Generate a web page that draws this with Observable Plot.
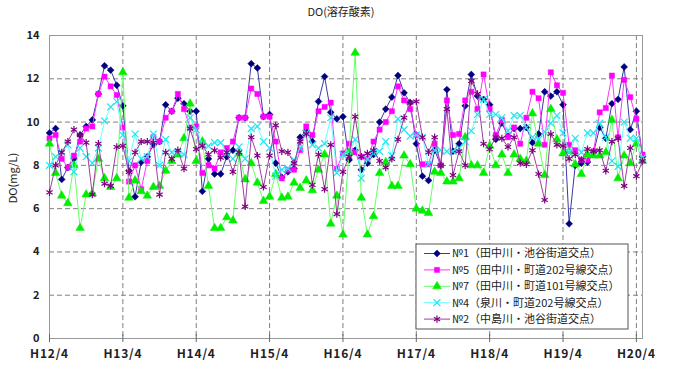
<!DOCTYPE html>
<html><head><meta charset="utf-8">
<script src="https://cdn.jsdelivr.net/npm/d3@7"></script>
<script src="https://cdn.jsdelivr.net/npm/@observablehq/plot@0.6"></script>
<style>body{margin:0;background:#fff;}</style>
</head><body><div id="chart"></div>
<script>
// Monthly DO values, H12/4 (index 0) .. H20/5 (index 97)
const no1 = [9.5,9.7,7.35,7.9,8.3,9.4,9.8,10.1,11.3,12.6,12.4,11.7,10.75,7.75,6.55,8.15,8.4,8.95,9.1,10.8,10.5,11.1,10.85,10.5,10.5,6.8,8.3,7.6,7.6,8.4,8.7,10.2,10.2,12.7,12.5,10.25,10.35,8.1,7.45,7.7,7.85,9.3,9.6,9.1,10.95,12.1,10.45,10.15,10.25,8.25,8.7,7.8,8.1,8.5,10.0,10.6,11.15,12.15,11.35,10.9,9.0,7.5,7.3,8.7,8.0,11.5,8.65,9.0,10.75,12.2,11.2,11.05,10.8,9.2,9.95,9.35,9.7,9.7,9.75,9.05,9.45,11.4,11.2,11.4,10.8,5.3,8.0,8.1,8.15,8.6,9.75,9.25,10.85,11.05,12.55,9.65,10.5,8.4];
const no5 = [9.25,9.4,8.3,7.9,8.45,9.1,9.7,9.8,11.3,12.1,11.65,11.25,9.75,7.25,8.0,6.9,8.2,9.3,9.1,10.2,10.5,11.3,10.6,9.75,9.8,7.65,8.0,7.85,8.6,8.8,9.1,10.2,10.2,11.55,11.3,10.25,10.25,9.1,7.4,7.8,7.8,8.7,9.8,9.4,10.5,10.7,10.9,7.85,8.55,9.0,8.6,8.4,8.3,9.1,9.65,10.0,10.5,11.65,11.0,10.6,9.4,8.05,8.05,9.0,8.0,11.0,9.4,9.45,11.0,11.4,10.6,12.2,10.6,9.4,10.1,9.3,9.75,9.0,10.2,11.4,11.1,8.95,12.3,11.7,11.35,8.95,8.7,8.25,8.25,8.65,10.45,10.65,12.15,9.3,11.95,11.15,10.15,8.5];
const no7 = [9.0,7.65,6.6,6.25,8.0,5.1,6.65,6.7,8.3,7.4,7.0,7.4,12.3,6.5,7.3,6.8,6.6,7.0,7.05,7.75,8.2,8.5,9.25,10.85,8.2,9.1,7.05,5.1,5.1,5.6,5.45,8.55,7.35,8.1,7.2,6.35,6.55,7.6,6.5,6.55,7.2,6.95,7.3,6.85,7.8,8.5,5.3,6.6,4.8,8.6,13.2,6.5,4.8,5.65,7.65,8.15,7.05,7.05,8.45,8.05,6.0,5.9,5.8,7.7,7.65,7.25,7.25,7.4,9.3,8.0,8.0,7.65,8.9,8.0,8.5,7.65,8.5,8.3,8.2,10.4,9.0,7.55,10.6,9.2,8.55,8.65,8.05,7.6,8.5,8.45,8.45,8.6,10.1,7.4,8.45,8.1,9.0,8.2];
const no4 = [8.0,8.4,8.6,8.95,7.7,8.8,8.4,8.1,8.8,10.05,10.7,10.95,9.4,8.2,9.45,8.3,8.4,9.45,8.0,9.2,8.6,8.6,8.5,10.2,9.65,9.0,8.9,9.05,9.05,8.55,8.3,8.85,8.3,9.7,9.8,9.1,8.8,7.5,7.8,7.85,8.25,8.8,9.5,8.95,8.8,9.0,10.2,7.65,8.5,8.6,9.2,7.4,8.3,8.55,8.65,9.1,8.45,10.15,9.65,9.35,9.4,9.3,8.05,8.7,8.7,8.65,8.65,8.8,9.1,9.6,10.35,11.05,10.35,10.35,10.2,9.6,10.3,10.3,9.75,9.3,9.2,9.55,9.95,10.3,9.5,8.6,9.25,8.6,9.5,9.5,9.95,9.3,8.2,7.95,10.0,9.25,9.25,8.35];
const no2 = [6.75,8.0,8.6,9.1,9.65,9.4,9.05,6.65,9.0,7.15,7.05,8.85,8.9,7.7,8.6,9.1,9.1,9.05,6.65,8.6,8.3,8.7,7.85,9.7,8.75,8.9,8.5,8.7,8.35,8.6,7.7,8.6,6.1,9.3,8.45,7.0,8.45,9.85,8.65,8.6,8.1,9.1,9.45,7.1,8.5,6.9,8.95,5.75,7.7,8.4,10.25,8.4,8.55,8.7,8.2,7.9,8.3,9.2,10.2,10.9,10.95,9.3,8.6,9.3,8.0,10.6,7.55,8.65,8.0,11.9,11.3,9.0,8.75,9.3,9.25,8.85,9.3,8.1,8.05,8.7,7.6,6.4,9.45,8.95,8.9,8.3,8.5,8.25,8.75,8.65,8.7,7.75,9.1,9.25,7.05,8.8,7.5,8.2];

const seriesNames = ["№1（田中川・池谷街道交点）","№5（田中川・町道202号線交点）","№7（田中川・町道101号線交点）","№4（泉川・町道202号線交点）","№2（中島川・池谷街道交点）"];
const xTickPos = [0,12,24,36,48,60,72,84,96];
const xTickLabels = ["H12/4","H13/4","H14/4","H15/4","H16/4","H17/4","H18/4","H19/4","H20/4"];
const yTicks = [0,2,4,6,8,10,12,14];
const gridY = [2,4,6,8,10,12];
const gridX = [12,24,36,48,60,72,84,96];

const styles = [
  {vals:no1, line:"#3a3aa8", mark:"#000080", symbol:"diamond2", filled:true, r:3.1},
  {vals:no5, line:"#ff33ff", mark:"#ff00ff", symbol:"square", filled:true, r:2.9},
  {vals:no7, line:"#66ff66", mark:"#00ee00", symbol:"triangle", filled:true, r:3.2},
  {vals:no4, line:"#66ffff", mark:"#22e5f0", symbol:"times", filled:false, r:3.2},
  {vals:no2, line:"#a040a0", mark:"#800080", symbol:"asterisk", filled:false, r:3.4}
];

const font = "'Noto Sans CJK JP', 'Noto Sans', sans-serif";
const marks = [
  Plot.ruleY(gridY, {stroke:"#808080", strokeDasharray:"5,3", strokeWidth:1}),
  Plot.ruleX(gridX, {stroke:"#808080", strokeDasharray:"5,3", strokeWidth:1}),
  Plot.frame({stroke:"#999"}),
  Plot.ruleX(xTickPos, {y1:0, y2:0.18, stroke:"#666"}),
  Plot.axisX({ticks:xTickPos, tickFormat:(d)=>xTickLabels[xTickPos.indexOf(d)], tickSize:4, tickPadding:7, label:null, fontSize:12}),
  Plot.axisY({ticks:yTicks, tickSize:0, tickPadding:10, label:null, fontSize:11})
];
for (const s of styles) {
  marks.push(Plot.line(s.vals, {x:(d,i)=>i, y:d=>d, stroke:s.line, strokeWidth:1}));
  marks.push(Plot.dot(s.vals, {x:(d,i)=>i, y:d=>d, symbol:s.symbol, r:s.r,
    fill: s.filled ? s.mark : "none", stroke: s.mark, strokeWidth: s.filled ? 0.5 : 1.2}));
}

const chart = Plot.plot({
  width:680, height:373,
  marginLeft:49, marginRight:38, marginTop:35, marginBottom:35,
  style:{fontFamily:font, fontSize:"11px", color:"#222", background:"#fff"},
  x:{domain:[0,97], axis:null},
  y:{domain:[0,14], axis:null},
  marks
});
document.getElementById("chart").append(chart);

const svg = d3.select(chart);
svg.selectAll("[aria-label='x-axis tick label'] text, [aria-label='y-axis tick label'] text").style("font-weight","bold").attr("fill","#222");
svg.selectAll("[aria-label='x-axis tick label'] text").style("letter-spacing","0.8px");
svg.selectAll("[aria-label='x-axis tick'] path, [aria-label='x-axis tick']").attr("stroke","#666");

svg.append("text").attr("x",341).attr("y",16).attr("text-anchor","middle")
  .style("font-family",font).style("font-size","11px").attr("fill","#222").text("DO(溶存酸素)");
svg.append("text").attr("transform","translate(17,178) rotate(-90)").attr("text-anchor","middle")
  .style("font-family",font).style("font-size","11px").attr("fill","#222").text("DO(mg/L)");

// legend
const lg = svg.append("g").attr("transform","translate(416,244)");
lg.append("rect").attr("width",212).attr("height",85).attr("fill","#fff").attr("stroke","#555").attr("stroke-width",1);
const sym = {diamond2:d3.symbolDiamond2, square:d3.symbolSquare, triangle:d3.symbolTriangle, times:d3.symbolTimes, asterisk:d3.symbolAsterisk};
styles.forEach((s,k)=>{
  const y = 9.5 + k*16.4;
  lg.append("line").attr("x1",8).attr("x2",34).attr("y1",y).attr("y2",y).attr("stroke",s.line).attr("stroke-width",1);
  lg.append("path").attr("transform",`translate(21,${y})`).attr("d",d3.symbol(sym[s.symbol], Math.PI*s.r*s.r)())
    .attr("fill", s.filled ? s.mark : "none").attr("stroke", s.mark).attr("stroke-width", s.filled?0.5:1.2);
  lg.append("text").attr("x",36).attr("y",y).attr("dy","0.36em").attr("text-anchor","start")
    .style("font-family",font).style("font-size","11px").attr("fill","#222").text(seriesNames[k]);
});
</script></body></html>
